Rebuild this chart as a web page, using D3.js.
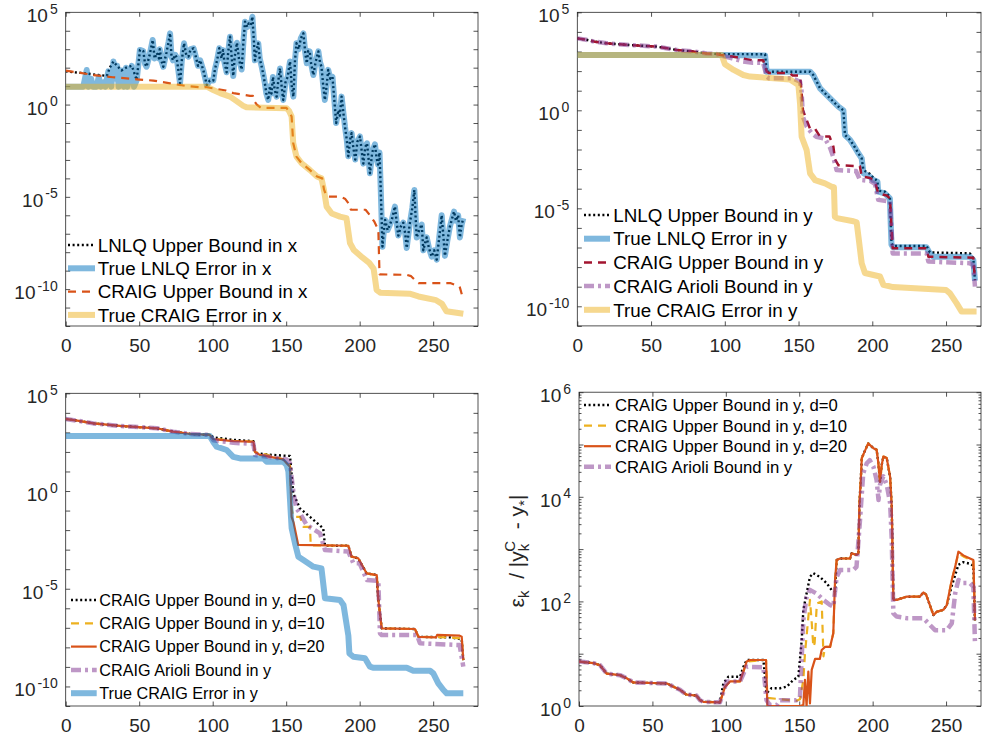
<!DOCTYPE html>
<html>
<head>
<meta charset="utf-8">
<script src="https://cdn.jsdelivr.net/npm/d3@7"></script>
<style>
  body { margin: 0; background: #fff; }
  text { font-family: "Liberation Sans", Arial, Helvetica, sans-serif; }
</style>
</head>
<body>
<svg id="fig" width="982" height="738"></svg>
<script>
// all series are [iteration k, log10(value)]
const xTicks = [0, 50, 100, 150, 200, 250];

// ---- top left: errors in x
const tlLnlqBoundStart = [[0,1.80],[5,1.75],[10,1.72],[15,1.68],[20,1.62],[25,1.58],[28,1.55],[30,2.0],[32.5,2.33],[35,2.1],[38,1.85],[41,2.0],[45,2.1]];
const tlLnlqErrStart = [[0,0.97],[12,0.97],[14.3,1.87],[15.5,0.97],[17.3,1.4],[18.5,0.97],[21,0.97],[22.5,1.5],[24,0.97],[26,1.2],[27,0.97],[29,1.8],[31,0.97],[32.5,2.33],[34,1.4],[35,2.1],[36,0.97],[38,1.85],[39.5,0.97],[41,2.0],[42,0.97],[43.5,1.6],[45,2.1],[46.5,0.97]];
const tlOsc = [[48.3,1.33],[50.5,2.96],[52.8,2.9],[54,2.2],[55,2.05],[57,2.65],[59.2,3.5],[60.5,2.5],[62,2.8],[63.5,2.5],[64,3.0],[65,2.4],[66.4,2.05],[68.5,2.8],[70,3.4],[71,3.86],[72,2.6],[73,2.4],[74.5,2.7],[75.5,2.55],[77.8,1.15],[79,2.4],[80.5,3.32],[82,2.7],[83.5,2.6],[85,3.0],[87,3.05],[88.5,2.6],[90,2.1],[91.5,2.4],[93.6,1.87],[96,1.06],[98,1.3],[100.4,1.3],[101.5,1.9],[103,2.4],[104.5,3.05],[106,2.5],[107,2.95],[108,2.3],[109.5,1.75],[110.5,2.8],[111.8,3.68],[113,2.5],[114,1.55],[115,2.6],[116.5,3.35],[118,2.4],[119.7,1.9],[121,3.5],[122,4.49],[123.5,4.2],[124.5,4.4],[126,4.3],[127,4.76],[128,3.5],[128.7,2.4],[130,3.0],[131,3.32],[132,2.5],[133.3,2.07],[134.5,1.6],[135.5,1.15],[136.5,0.6],[137.8,0.25],[139,1.0],[140,0.6],[141,1.5],[142.2,0.8],[143.5,0.43],[144.5,1.2],[145.8,1.96],[147,0.9],[148,0.25],[149.5,1.2],[151,1.5],[152.6,2.33],[153.8,1.0],[154.9,0.43],[156,2.4],[157,3.32],[158.5,3.0],[160,3.6],[161.7,3.86],[163,2.8],[164,2.24],[165,2.9],[166,2.88],[167,2.2],[168.5,1.6],[170,2.3],[171.9,2.88],[173,2.3],[174,2.05],[175,1.2],[176.3,0.25],[177.5,1.0],[178.6,1.88],[180,1.4],[181.5,1.5],[182.8,0.2],[184,-1.0],[185.5,-0.3],[186.5,-0.6],[187.7,0.43],[189,-0.5],[190,-1.2],[191.2,-1.9],[192.3,-2.8],[193.5,-1.9],[194.5,-1.55],[195.8,-2.4],[197,-2.98],[198.5,-2.0],[200.2,-1.73],[201.5,-2.6],[202.5,-3.2],[203.8,-2.3],[205,-2.1],[206,-2.9],[207,-3.72],[208.5,-2.6],[210.4,-2.15],[211.5,-2.9],[212.5,-3.25],[213.5,-2.6],[214.3,-4.5],[215.5,-7.7],[216.5,-6.8],[217.3,-6.25],[219,-6.8],[220.6,-6.5],[222,-6.2],[224,-5.53],[225.2,-6.4],[226.3,-7.1],[228,-6.6],[229.7,-6.4],[231,-7.0],[232,-7.77],[233.2,-7.0],[234.2,-6.4],[235.8,-5.6],[237.2,-4.63],[238,-6.0],[238.8,-7.2],[240.5,-6.8],[242.2,-6.5],[243.3,-7.9],[244.5,-7.5],[245.6,-7.2],[247.2,-7.8],[249,-8.24],[250.7,-7.9],[252.4,-8.4],[254,-7.3],[255.8,-6.0],[257,-7.2],[258,-8.2],[259.6,-7.4],[261.4,-6.6],[262.8,-6.2],[264.2,-5.8],[265.5,-6.3],[267,-6.0],[268.2,-7.2],[269.4,-6.5],[270.5,-6.16]];
const tlLnlqBound = tlLnlqBoundStart.concat(tlOsc);
const tlLnlqErr = tlLnlqErrStart.concat(tlOsc);
const tlCraigBound = [[0,1.84],[10,1.72],[18.8,1.6],[32,1.48],[48.3,1.37],[59.6,1.3],[71,1.15],[82.3,1.0],[91,0.94],[96,0.94],[100,0.88],[109,0.76],[114,0.62],[120,0.55],[125.4,0.47],[127.4,0.47],[127.8,0.25],[130,0.0],[132.8,-0.18],[150.2,-0.18],[152,-0.38],[153.7,-0.65],[154.8,-2.1],[157,-2.82],[160.5,-3.18],[166,-3.54],[171,-3.9],[174.5,-4.0],[175.7,-4.6],[177.5,-4.99],[186.6,-4.99],[190,-5.1],[192.4,-5.35],[194,-5.7],[204,-5.7],[207,-6.0],[210,-6.35],[212.7,-6.8],[213.5,-9.2],[232,-9.23],[235,-9.3],[237.5,-9.5],[240,-9.68],[262,-9.68],[268,-9.86],[270.5,-10.58]];
const tlCraigErr = [[0,0.97],[96,0.97],[100.4,0.79],[105,0.62],[111.8,0.43],[116,0.2],[120.8,-0.07],[123,-0.15],[150.3,-0.2],[152,-0.35],[153.7,-0.65],[154.8,-2.1],[157,-2.82],[160.5,-3.18],[166,-3.54],[171,-3.9],[174,-4.0],[175.7,-4.63],[177.5,-5.53],[181,-5.9],[186.6,-6.07],[191,-6.15],[193.4,-7.5],[196,-7.88],[202,-8.3],[206.5,-8.58],[209.5,-8.9],[211.5,-10.04],[214,-10.2],[234,-10.25],[240,-10.4],[252,-10.6],[256,-10.8],[259,-11.2],[270.5,-11.34]];

// ---- top right: errors in y
const trStart = [[0,3.67],[6,3.6],[12,3.5],[19.9,3.42],[35.7,3.33],[53.8,3.25],[67.3,3.08],[78.6,3.0],[87.7,2.9],[94.5,2.87]];
const trLnlqBound = trStart.concat([[127.3,2.86],[128.4,1.97],[157.8,1.97],[160,1.8],[164.6,1.12],[166.8,0.95],[170.2,0.7],[173.6,0.44],[177,0.19],[180.4,0.0],[181.5,-1.26],[184.9,-1.51],[187.2,-1.77],[190.6,-2.2],[192.8,-2.45],[194,-3.05],[198.5,-3.25],[200.7,-3.45],[203.5,-3.6],[204,-4.1],[208.5,-4.15],[211.9,-4.4],[213,-6.79],[214.2,-6.92],[236.8,-6.92],[239,-7.25],[266.2,-7.3],[268.5,-7.55],[269.6,-8.66]]);
const trLnlqErr = [[0,2.82],[96,2.82],[127.3,2.8],[128.4,1.97],[157.8,1.97],[160,1.8],[164.6,1.12],[166.8,0.95],[170.2,0.7],[173.6,0.44],[177,0.19],[180.4,0.0],[181.5,-1.26],[184.9,-1.51],[187.2,-1.77],[190.6,-2.2],[192.8,-2.45],[194,-3.2],[198.5,-3.39],[200.7,-3.56],[203.5,-3.65],[204,-4.15],[208.5,-4.24],[211.9,-4.49],[213,-6.85],[214.2,-6.99],[236.8,-6.99],[239,-7.3],[241.4,-7.47],[266.2,-7.47],[268.5,-7.64],[269.6,-8.7]];
const trCraigBound = trStart.concat([[97,2.82],[105,2.75],[112,2.65],[119,2.55],[126,2.55],[128.4,1.97],[130,1.9],[144,1.9],[146,1.77],[151,1.77],[152,1.0],[153,0.0],[155.5,-0.5],[157.7,-0.92],[161,-0.92],[164.5,-1.34],[171,-1.34],[173.6,-1.85],[174.7,-2.5],[177,-2.8],[191.6,-2.85],[192.8,-3.38],[198.5,-3.45],[201.8,-3.65],[204,-4.23],[209.7,-4.35],[212,-4.5],[213.8,-7.04],[236.8,-7.04],[238,-7.47],[268.5,-7.52],[269.6,-8.66]]);
const trArioli = trStart.concat([[97,2.8],[105,2.65],[112,2.5],[119,2.43],[126,2.43],[128.4,1.72],[130,1.63],[146,1.63],[151,1.46],[152,1.0],[153,-0.34],[155.5,-0.83],[159,-1.17],[162,-1.35],[168,-1.45],[171.3,-1.9],[173.6,-2.4],[175.8,-3.05],[189,-3.1],[191.6,-3.55],[198.5,-3.6],[201.8,-3.75],[204,-4.57],[212,-4.65],[213.8,-7.3],[236.8,-7.3],[238,-7.72],[266,-7.8],[268.5,-7.9],[269.6,-9.0]]);
const trCraigErr = [[0,2.82],[97.9,2.82],[100.1,2.35],[106,2.06],[112.6,1.8],[117.1,1.72],[128.4,1.66],[144.2,1.57],[147.6,1.4],[149.9,1.29],[151,0.35],[152.1,-1.35],[155.5,-2.03],[157.8,-3.22],[161.2,-3.56],[167.9,-3.73],[172.4,-3.9],[174,-3.92],[174.6,-5.43],[176,-5.5],[187.2,-5.66],[189.4,-5.72],[191.2,-6.8],[192.8,-7.8],[195,-8.3],[205.2,-8.48],[207.5,-8.9],[214,-9.02],[250,-9.17],[252.7,-9.34],[257.2,-9.85],[260.6,-10.27],[270.7,-10.27]];

// ---- bottom left: CRAIG bounds in y with delay d
const blStart = [[0,3.685],[8,3.6],[18.8,3.46],[37,3.33],[62,3.21],[73,3.04],[84.6,2.92],[98,2.87]];
const blD0 = blStart.concat([[100.5,2.75],[114,2.62],[127.7,2.55],[128.8,1.96],[136.7,1.87],[150.3,1.8],[152.6,1.8],[154.8,-0.12],[159.4,-0.89],[166.2,-1.32],[175.2,-1.91],[176.4,-2.8],[192.3,-2.8],[194.5,-3.36],[199,-3.44],[204.7,-4.21],[211.6,-4.3],[212.6,-5.5],[215,-7.03],[237.6,-7.06],[240,-7.46],[262,-7.49],[269.4,-7.59],[270.5,-8.65]]);
const blD10 = blStart.concat([[100.5,2.68],[114,2.57],[127.7,2.53],[128.8,1.98],[136.7,1.86],[148,1.62],[150,1.45],[152.6,1.3],[153.7,-0.9],[154.8,-1.32],[159.4,-1.32],[161.6,-1.83],[166.2,-1.83],[166.7,-2.78],[192.3,-2.8],[194.5,-3.36],[199,-3.44],[204.7,-4.21],[211.6,-4.3],[212.6,-5.5],[215,-7.03],[237.6,-7.06],[240,-7.46],[262,-7.49],[269.4,-7.55],[270.5,-8.65]]);
const blD20 = blStart.concat([[100.5,2.65],[114,2.55],[127.7,2.52],[128.8,2.01],[132,1.85],[148,1.62],[150,1.45],[152.6,1.24],[153.7,-1.32],[155,-1.6],[158.2,-2.76],[192.3,-2.8],[194.5,-3.36],[199,-3.44],[204.7,-4.21],[211.6,-4.3],[212.6,-5.5],[215,-7.03],[237.6,-7.06],[240,-7.46],[252,-7.49],[252.7,-7.36],[268,-7.4],[269.4,-7.45],[270.5,-8.65]]);
const blArioli = blStart.concat([[100.5,2.6],[114,2.47],[125,2.42],[127.7,2.42],[128.8,1.84],[136.7,1.76],[150.3,1.62],[152.6,1.42],[155,-0.12],[157,-0.9],[159.4,-1.14],[164,-1.74],[173,-2.17],[176.4,-3.02],[192.3,-3.1],[195.7,-3.7],[200,-3.7],[204.8,-4.55],[212.7,-4.6],[213.8,-7.28],[215,-7.37],[239,-7.37],[241,-7.79],[268,-7.88],[270.5,-8.99]]);
const blCraigErr = [[0,2.815],[98,2.815],[100.5,2.5],[102.7,2.27],[109.5,2.1],[114,1.75],[118.6,1.67],[134.5,1.67],[136.7,1.5],[148,1.5],[150.3,1.33],[151.5,1.0],[153.7,-1.9],[156,-2.68],[158.3,-3.36],[161.7,-3.53],[168.5,-3.87],[174,-3.96],[176.4,-5.49],[186.6,-5.58],[189,-5.83],[192.3,-7.4],[193,-8.31],[195.7,-8.48],[203.6,-8.56],[207,-8.99],[209,-9.04],[232,-9.04],[236.5,-9.2],[248,-9.2],[250.1,-9.33],[253.5,-9.84],[257,-10.18],[259.2,-10.35],[270.5,-10.35]];

// ---- bottom right: bound / true error ratio
const brStart = [[0,0.85],[10,0.82],[14.3,0.78],[18.8,0.62],[27.9,0.59],[32.5,0.53],[37,0.45],[60,0.43],[64.3,0.37],[68.8,0.31],[73,0.22],[80,0.2],[82.4,0.11],[84.7,0.08],[96,0.07]];
const brPeak = [[175.5,2.79],[177.8,2.82],[184.6,2.82],[185.7,2.92],[189,2.89],[190.3,2.92],[191,3.87],[191.9,4.32],[192.6,4.74],[196,4.96],[197,5.02],[200.5,4.93],[202.7,4.9],[203.9,4.64],[205,4.29],[206.2,4.61],[207.3,4.77],[209.6,4.74],[211.9,4.38],[213,3.81],[214.1,2.03],[216.4,2.03],[223,2.09],[232,2.09],[234.6,2.17],[236.4,2.13],[241.4,1.74],[243.6,1.8],[248.2,1.84],[250.5,1.93]];
const brD0 = brStart.concat([[98.3,0.43],[101.7,0.56],[109.7,0.56],[112,0.75],[114.2,0.88],[125.6,0.88],[127.7,0.24],[131,0.34],[137,0.34],[141.5,0.37],[146,0.5],[149.4,0.56],[151.7,1.26],[152.8,1.84],[155,2.15],[157.3,2.47],[159.6,2.54],[164,2.47],[168.6,2.35],[172,2.22],[174.4,2.19]], brPeak, [[253.9,2.3],[256.2,2.5],[258.4,2.7],[261.8,2.75],[266.3,2.72],[268.6,2.68],[269.7,1.6]]);
const brD10 = brStart.concat([[99.5,0.37],[102.9,0.47],[109.7,0.47],[114.2,0.85],[125.6,0.88],[127.4,0.88],[128.3,0.15],[130,0.15],[148,0.1],[150.5,0.13],[152.8,0.5],[153.9,1.0],[157.3,2.03],[158.5,1.6],[159.6,1.13],[160.5,1.2],[162,1.96],[165.3,2.0],[166.5,0.95],[167.6,1.13],[171,1.13],[173.2,1.39],[174.4,2.41]], brPeak, [[253.9,2.41],[256.2,2.66],[258.4,2.92],[261.8,2.86],[266.3,2.8],[268.6,2.77],[269.7,1.64]]);
const brD20 = brStart.concat([[99.5,0.37],[102.9,0.47],[109.7,0.47],[114.2,0.85],[116.5,0.88],[127.4,0.88],[128.3,0.0],[150.5,0.0],[152.8,0.02],[153.9,0.5],[155,0.0],[156.2,0.66],[157.3,0.05],[158.5,0.69],[160.8,0.9],[164,0.9],[165.3,1.07],[167.6,1.13],[171,1.13],[173.2,1.39],[174.4,2.41]], brPeak, [[253.9,2.41],[256.2,2.66],[258.4,2.95],[261.8,2.88],[266.3,2.82],[268.6,2.79],[269.7,1.64]]);
const brArioli = brStart.concat([[100.6,0.47],[109.7,0.47],[114.2,0.75],[125.6,0.74],[127.7,0.11],[130,0.02],[134.8,0.02],[137,0.11],[148,0.11],[150.5,0.17],[152.8,1.64],[155,2.09],[157.3,2.22],[161.8,2.15],[166.4,2.03],[171,1.93],[173.2,1.9],[175.5,2.47],[177.8,2.6],[186.8,2.6],[189,2.66],[191.4,3.56],[193.6,4.45],[196,4.64],[198,4.7],[200.5,4.58],[202.7,4.32],[204,3.94],[205,4.23],[207.3,4.39],[209.6,4.23],[211.9,3.88],[213,3.2],[214.1,1.77],[216.4,1.71],[223,1.68],[234.6,1.68],[239,1.55],[242.5,1.45],[250.5,1.45],[253.9,1.58],[256.2,2.15],[258.4,2.41],[261.8,2.35],[266.3,2.35],[268.6,2.28],[269.7,1.2]]);

// MATLAB colours
const cBlue = '#0072BD', cOrange = '#D95319', cYellow = '#EDB120', cPurple = '#7E2F8E', cRed = '#A2142F';
const dotted = '2,2.6', dashed = '8,6', dashDot = '10,4,3,4';

const svg = d3.select('#fig');
const axisColor = '#262626';
const tickFont = 19;

function drawPanel(p) {
  const g = svg.append('g');
  const x = d3.scaleLinear().domain([0, p.xMax]).range([p.left, p.right]);
  const y = d3.scaleLog().domain([Math.pow(10, p.logMin), Math.pow(10, p.logMax)]).range([p.bottom, p.top]);

  g.append('clipPath').attr('id', 'clip-' + p.name)
    .append('rect')
    .attr('x', p.left).attr('y', p.top)
    .attr('width', p.right - p.left).attr('height', p.bottom - p.top);

  const decades = d3.range(p.logMin, p.logMax + 1).map(e => Math.pow(10, e));

  // axes and ticks (inside, on all four sides)
  const ax = g.append('g');
  ax.append('g').attr('transform', `translate(0,${p.bottom})`)
    .call(d3.axisBottom(x).tickValues(xTicks).tickSize(-4.5).tickPadding(13).tickFormat(d3.format('d')));
  ax.append('g').attr('transform', `translate(0,${p.top})`)
    .call(d3.axisTop(x).tickValues(xTicks).tickSize(-4.5).tickFormat(''));
  ax.append('g').attr('transform', `translate(${p.left},0)`)
    .call(d3.axisLeft(y).tickValues(decades).tickSize(-4.5).tickFormat(''));
  ax.append('g').attr('transform', `translate(${p.right},0)`)
    .call(d3.axisRight(y).tickValues(decades).tickSize(-4.5).tickFormat(''));
  if (p.minor) {
    const minors = [];
    for (let e = p.logMin; e < p.logMax; e++) for (let m = 2; m < 10; m++) minors.push(m * Math.pow(10, e));
    ax.append('g').attr('transform', `translate(${p.left},0)`)
      .call(d3.axisLeft(y).tickValues(minors).tickSize(-2.5).tickFormat(''));
    ax.append('g').attr('transform', `translate(${p.right},0)`)
      .call(d3.axisRight(y).tickValues(minors).tickSize(-2.5).tickFormat(''));
  }
  ax.selectAll('.domain').remove();
  ax.selectAll('line').attr('stroke', axisColor).attr('stroke-width', 0.8);
  ax.selectAll('text').attr('font-size', tickFont).attr('fill', axisColor)
    .attr('font-family', '"Liberation Sans", Arial, Helvetica, sans-serif');

  g.append('rect')
    .attr('x', p.left).attr('y', p.top)
    .attr('width', p.right - p.left).attr('height', p.bottom - p.top)
    .attr('fill', 'none').attr('stroke', axisColor).attr('stroke-width', 0.8);

  // 10^e labels
  p.yLabels.forEach(e => {
    const t = g.append('text')
      .attr('x', p.left - 8).attr('y', y(Math.pow(10, e)) + 10)
      .attr('text-anchor', 'end').attr('font-size', tickFont).attr('fill', axisColor);
    t.append('tspan').text('10');
    t.append('tspan').attr('dx', 2).attr('dy', -8.5).attr('font-size', 14).text(String(e));
  });

  // data
  const line = d3.line().x(d => x(d[0])).y(d => y(Math.pow(10, d[1])));
  const lg = g.append('g').attr('clip-path', `url(#clip-${p.name})`);
  p.series.forEach(s => {
    lg.append('path').datum(s.data)
      .attr('d', line)
      .attr('fill', 'none')
      .attr('stroke', s.color)
      .attr('stroke-width', s.width)
      .attr('stroke-opacity', s.opacity || 1)
      .attr('stroke-dasharray', s.dash || null)
      .attr('stroke-linejoin', 'round');
  });

  // legend (no box)
  p.series.forEach((s, i) => {
    const yy = p.leg.y + i * p.leg.dy;
    g.append('line')
      .attr('x1', p.leg.x0).attr('x2', p.leg.x1).attr('y1', yy).attr('y2', yy)
      .attr('stroke', s.color).attr('stroke-width', s.width)
      .attr('stroke-opacity', s.opacity || 1)
      .attr('stroke-dasharray', s.dash || null);
    g.append('text')
      .attr('x', p.leg.tx).attr('y', yy + p.leg.fs * 0.36)
      .attr('font-size', p.leg.fs).attr('fill', '#000')
      .text(s.label);
  });
  return { x, y, g };
}

drawPanel({
  name: 'tl', left: 65.7, right: 478, top: 12.3, bottom: 326, xMax: 280.5, logMin: -12, logMax: 5,
  yLabels: [5, 0, -5, -10],
  leg: { x0: 68, x1: 95, tx: 97.7, y: 245, dy: 23.3, fs: 18.8 },
  series: [
    { data: tlLnlqBound, color: '#000', width: 2.4, dash: dotted, label: 'LNLQ Upper Bound in x' },
    { data: tlLnlqErr, color: cBlue, width: 6, opacity: 0.5, label: 'True LNLQ Error in x' },
    { data: tlCraigBound, color: cOrange, width: 2.2, dash: dashed, label: 'CRAIG Upper Bound in x' },
    { data: tlCraigErr, color: cYellow, width: 6, opacity: 0.5, label: 'True CRAIG Error in x' }
  ]
});

drawPanel({
  name: 'tr', left: 577.3, right: 981, top: 12.3, bottom: 325.9, xMax: 273.7, logMin: -11, logMax: 5,
  yLabels: [5, 0, -5, -10],
  leg: { x0: 584, x1: 610, tx: 613.3, y: 215, dy: 23.7, fs: 18.8 },
  series: [
    { data: trLnlqBound, color: '#000', width: 2.4, dash: dotted, label: 'LNLQ Upper Bound in y' },
    { data: trLnlqErr, color: cBlue, width: 6, opacity: 0.5, label: 'True LNLQ Error in y' },
    { data: trCraigBound, color: cRed, width: 2.5, dash: dashed, label: 'CRAIG Upper Bound in y' },
    { data: trArioli, color: cPurple, width: 4.5, opacity: 0.5, dash: dashDot, label: 'CRAIG Arioli Bound in y' },
    { data: trCraigErr, color: cYellow, width: 6, opacity: 0.5, label: 'True CRAIG Error in y' }
  ]
});

drawPanel({
  name: 'bl', left: 65.7, right: 478, top: 393.3, bottom: 706, xMax: 280.5, logMin: -11, logMax: 5,
  yLabels: [5, 0, -5, -10],
  leg: { x0: 71, x1: 96.7, tx: 99.3, y: 600, dy: 23.3, fs: 16.2 },
  series: [
    { data: blD0, color: '#000', width: 2.4, dash: dotted, label: 'CRAIG Upper Bound in y, d=0' },
    { data: blD10, color: cYellow, width: 2.2, dash: dashed, label: 'CRAIG Upper Bound in y, d=10' },
    { data: blD20, color: cOrange, width: 2.2, label: 'CRAIG Upper Bound in y, d=20' },
    { data: blArioli, color: cPurple, width: 4.5, opacity: 0.5, dash: dashDot, label: 'CRAIG Arioli Bound in y' },
    { data: blCraigErr, color: cBlue, width: 6, opacity: 0.5, label: 'True CRAIG Error in y' }
  ]
});

const br = drawPanel({
  name: 'br', left: 579, right: 981, top: 392.2, bottom: 706, xMax: 273.8, logMin: 0, logMax: 6, minor: true,
  yLabels: [0, 2, 4, 6],
  leg: { x0: 584, x1: 611, tx: 615, y: 405, dy: 20.6, fs: 16.7 },
  series: [
    { data: brD0, color: '#000', width: 2.4, dash: dotted, label: 'CRAIG Upper Bound in y, d=0' },
    { data: brD10, color: cYellow, width: 2.2, dash: dashed, label: 'CRAIG Upper Bound in y, d=10' },
    { data: brD20, color: cOrange, width: 2.2, label: 'CRAIG Upper Bound in y, d=20' },
    { data: brArioli, color: cPurple, width: 4.5, opacity: 0.5, dash: dashDot, label: 'CRAIG Arioli Bound in y' }
  ]
});

// y label of the ratio panel: eps_k / |y_k^C - y_*|
const yl = br.g.append('text')
  .attr('transform', 'translate(524,551) rotate(-90)')
  .attr('text-anchor', 'middle')
  .attr('font-size', 21).attr('fill', axisColor)
  .attr('xml:space', 'preserve');
yl.append('tspan').text('\u03B5');
yl.append('tspan').attr('dy', 5).attr('font-size', 15).text('k');
yl.append('tspan').attr('dy', -5).text('  / |y');
yl.append('tspan').attr('dy', 5).attr('font-size', 15).text('k');
yl.append('tspan').attr('dx', -8).attr('dy', -14).attr('font-size', 15).text('C');
yl.append('tspan').attr('dy', 9).text('  - y');
yl.append('tspan').attr('dy', 5).attr('font-size', 15).text('*');
yl.append('tspan').attr('dy', -5).text('|');
</script>
</body>
</html>
